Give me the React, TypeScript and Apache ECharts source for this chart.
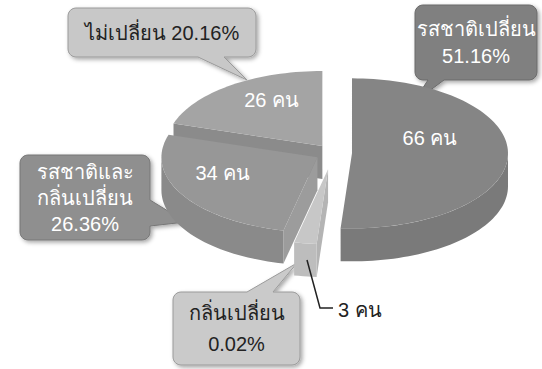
import React, { useEffect, useRef } from 'react';
import * as echarts from 'echarts';

// ---- data ----
const categories = ['รสชาติเปลี่ยน', 'กลิ่นเปลี่ยน', 'รสชาติและกลิ่นเปลี่ยน', 'ไม่เปลี่ยน'];
const counts = [66, 3, 34, 26];
const percentLabels = ['51.16%', '0.02%', '26.36%', '20.16%'];
const unit = 'คน';

// ---- styling / layout ----
const topColors = ['#858585', '#c7c7c7', '#979797', '#a4a4a4'];
const wallColors = ['#7a7a7a', '#bdbdbd', '#8a8a8a', '#939393'];
const cutColors = ['#7d7d7d', '#b4b4b4', '#9c9c9c', '#8b8b8b'];
const explode = [19, 34, 18, 18];
const labelR = [0.5, 0, 0.7, 0.55];
const labelDy = [-17, 0, -11, -13];

const FONT = '"Liberation Sans", Arial, "Noto Sans", sans-serif';
const CX = 333, CY = 153, RX = 156, RY = 75, DEPTH = 33;

type Ptr = { side: 'top' | 'right' | 'bottom' | 'left'; a: number; b: number; tip: [number, number] };

function calloutPoints(x: number, y: number, w: number, h: number, r: number, p: Ptr): number[][] {
  const pts: number[][] = [];
  const arc = (cx: number, cy: number, from: number, to: number) => {
    const n = 6;
    for (let k = 0; k <= n; k++) {
      const t = ((from + (to - from) * (k / n)) * Math.PI) / 180;
      pts.push([cx + r * Math.cos(t), cy + r * Math.sin(t)]);
    }
  };
  arc(x + r, y + r, 180, 270);
  if (p.side === 'top') pts.push([p.a, y], p.tip, [p.b, y]);
  arc(x + w - r, y + r, 270, 360);
  if (p.side === 'right') pts.push([x + w, p.a], p.tip, [x + w, p.b]);
  arc(x + w - r, y + h - r, 0, 90);
  if (p.side === 'bottom') pts.push([p.b, y + h], p.tip, [p.a, y + h]);
  arc(x + r, y + h - r, 90, 180);
  if (p.side === 'left') pts.push([x, p.b], p.tip, [x, p.a]);
  return pts;
}

function callout(
  x: number, y: number, w: number, h: number, p: Ptr,
  fill: string, stroke: string, text: string, textColor: string, lineHeight: number
) {
  return {
    type: 'group',
    children: [
      {
        type: 'polygon',
        shape: { points: calloutPoints(x, y, w, h, 8, p) },
        style: {
          fill, stroke, lineWidth: 1,
          shadowBlur: 4, shadowColor: 'rgba(0,0,0,0.35)', shadowOffsetX: 2, shadowOffsetY: 2,
        },
      },
      {
        type: 'text',
        x: x + w / 2,
        y: y + h / 2,
        style: {
          text, fill: textColor, font: `20px ${FONT}`, fontSize: 20, fontFamily: FONT,
          lineHeight,
          align: 'center', verticalAlign: 'middle', textAlign: 'center', textVerticalAlign: 'middle',
        },
      },
    ],
  };
}

export default function App() {
  const ref = useRef<HTMLDivElement>(null);
  useEffect(() => {
    document.body.style.margin = '0';
    if (!ref.current) return;
    const chart = echarts.init(ref.current, undefined, { renderer: 'svg' });
    const total = counts.reduce((s, v) => s + v, 0);

    const renderItem = (params: any, api: any) => {
      const i = params.dataIndex;
      let start = 0;
      for (let j = 0; j < i; j++) start += counts[j];
      const v = api.value(0) as number;
      const a0 = (start / total) * Math.PI * 2;
      const a1 = ((start + v) / total) * Math.PI * 2;
      const mid = (a0 + a1) / 2;
      const e = explode[i];
      const ox = CX + e * Math.sin(mid);
      const oy = CY - e * Math.cos(mid) * (RY / RX);
      const P = (t: number, r = 1, dz = 0) => [ox + RX * r * Math.sin(t), oy - RY * r * Math.cos(t) + dz];
      const base = Math.round((1 - Math.cos(mid)) * 100) * 4;
      const children: any[] = [];
      // cut faces
      if (Math.sin(a0) < -0.01) {
        children.push({
          type: 'polygon', z2: base,
          shape: { points: [P(a0, 0), P(a0), P(a0, 1, DEPTH), P(a0, 0, DEPTH)] },
          style: { fill: cutColors[i] },
        });
      }
      if (Math.sin(a1) > 0.01) {
        children.push({
          type: 'polygon', z2: base,
          shape: { points: [P(a1, 0), P(a1), P(a1, 1, DEPTH), P(a1, 0, DEPTH)] },
          style: { fill: cutColors[i] },
        });
      }
      // outer wall (front half only)
      const w0 = Math.max(a0, Math.PI / 2);
      const w1 = Math.min(a1, (Math.PI * 3) / 2);
      if (w1 > w0) {
        const n = Math.max(4, Math.ceil(((w1 - w0) * 180) / Math.PI / 2));
        const topRim: number[][] = [];
        const botRim: number[][] = [];
        for (let k = 0; k <= n; k++) {
          const t = w0 + ((w1 - w0) * k) / n;
          topRim.push(P(t));
          botRim.push(P(t, 1, DEPTH));
        }
        children.push({
          type: 'polygon', z2: base + 1,
          shape: { points: topRim.concat(botRim.reverse()) },
          style: { fill: wallColors[i] },
        });
      }
      // top face
      const n = Math.max(4, Math.ceil(((a1 - a0) * 180) / Math.PI / 2));
      const topPts: number[][] = [P(a0, 0)];
      for (let k = 0; k <= n; k++) topPts.push(P(a0 + ((a1 - a0) * k) / n));
      children.push({
        type: 'polygon', z2: base + 2,
        shape: { points: topPts },
        style: { fill: topColors[i] },
      });
      if (labelR[i] > 0) {
        const lp = P(mid, labelR[i]);
        children.push({
          type: 'text', z2: 2000,
          x: lp[0], y: lp[1] + labelDy[i],
          style: {
            text: `${v} ${unit}`, fill: '#ffffff', font: `20px ${FONT}`, fontSize: 20, fontFamily: FONT,
            align: 'center', verticalAlign: 'middle', textAlign: 'center', textVerticalAlign: 'middle',
          },
        });
      }
      return { type: 'group', children };
    };

    const option: any = {
      animation: false,
      backgroundColor: '#ffffff',
      series: [
        {
          type: 'custom',
          coordinateSystem: 'none',
          name: 'pie3d',
          data: counts.map((v, i) => ({ name: categories[i], value: [v] })),
          renderItem,
          silent: true,
        },
      ],
      graphic: [
        callout(68, 8, 188, 49, { side: 'bottom', a: 198, b: 224, tip: [247, 80] },
          '#c8c8c8', '#9a9a9a', `${categories[3]} ${percentLabels[3]}`, '#222222', 24),
        callout(415, 5, 122, 75, { side: 'bottom', a: 428, b: 444, tip: [413, 103] },
          '#808080', '#6a6a6a', `${categories[0]}\n${percentLabels[0]}`, '#ffffff', 27),
        callout(20, 155, 130, 85, { side: 'right', a: 200, b: 226, tip: [186, 222] },
          '#8f8f8f', '#777777', 'รสชาติและ\nกลิ่นเปลี่ยน\n' + percentLabels[2], '#ffffff', 26),
        callout(173, 292, 127, 73, { side: 'top', a: 247, b: 273, tip: [297, 263] },
          '#cacaca', '#9a9a9a', `${categories[1]}\n${percentLabels[1]}`, '#222222', 31),
        {
          type: 'polyline', z: 10,
          shape: { points: [[307, 260], [320, 308], [333, 308]] },
          style: { stroke: '#222222', lineWidth: 1.5, fill: 'none' },
        },
        {
          type: 'text', z: 10, x: 338, y: 310,
          style: {
            text: `${counts[1]} ${unit}`, fill: '#222222', font: `20px ${FONT}`, fontSize: 20, fontFamily: FONT,
            align: 'left', verticalAlign: 'middle', textAlign: 'left', textVerticalAlign: 'middle',
          },
        },
      ],
    };
    chart.setOption(option);
    return () => chart.dispose();
  }, []);
  return <div ref={ref} style={{ width: 542, height: 369 }} />;
}
